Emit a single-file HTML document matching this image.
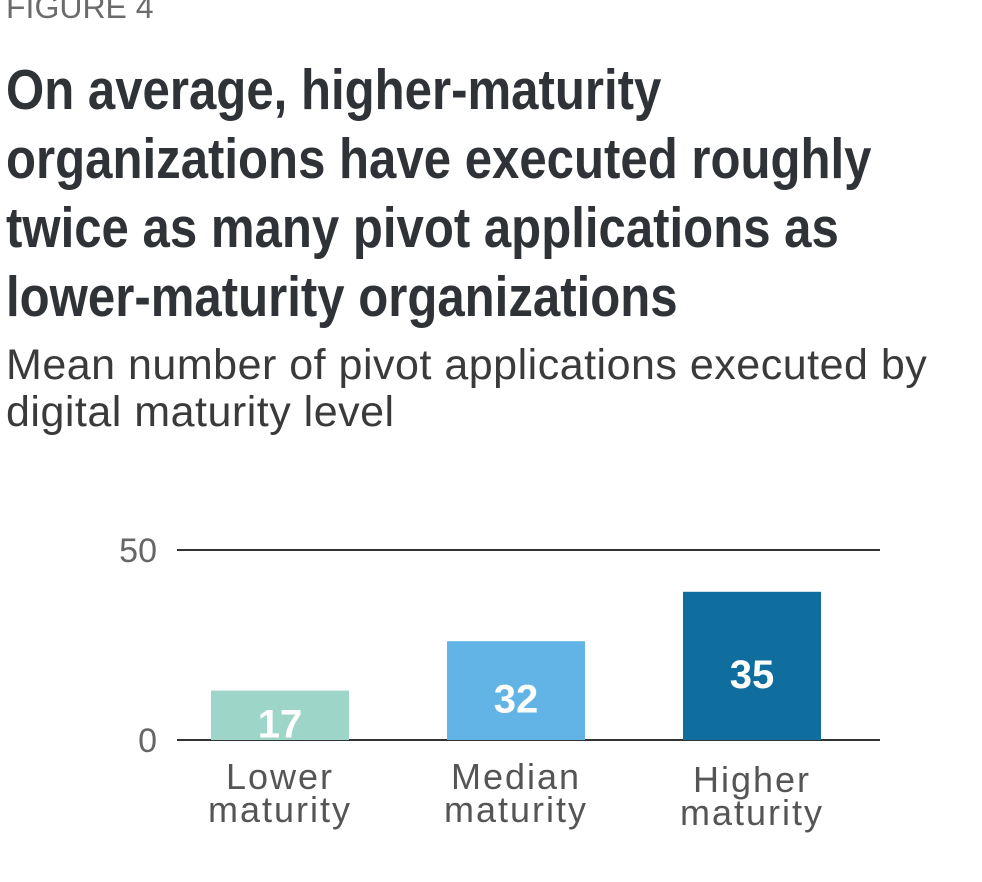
<!DOCTYPE html>
<html><head><meta charset="utf-8"><style>
body{margin:0;width:982px;height:882px;background:#fff;overflow:hidden;position:relative;font-family:"Liberation Sans",sans-serif}
.fig{position:absolute;left:6px;top:-11px;font-size:32px;color:#6b6b6b}
.title{position:absolute;left:6px;top:56px;font-family:"Liberation Sans Narrow","Liberation Sans",sans-serif;font-weight:bold;font-size:57px;line-height:69px;color:#2f3338;width:1100px;transform:scaleX(0.862);transform-origin:0 0;white-space:nowrap}
.sub{position:absolute;left:6px;top:342px;font-size:43px;line-height:47px;color:#3a3a3a;width:980px;white-space:nowrap;letter-spacing:0.5px}
svg{position:absolute;left:0;top:0}
</style></head><body>
<div class="fig">FIGURE 4</div>
<div class="title">On average, higher-maturity<br>organizations have executed roughly<br>twice as many pivot applications as<br>lower-maturity organizations</div>
<div class="sub">Mean number of pivot applications executed by<br>digital maturity level</div>
<svg id="chart" width="982" height="882"></svg>
<script>
const categories=[["Lower","maturity"],["Median","maturity"],["Higher","maturity"]];
const barValues=[13,26,39];
const valueLabels=["17","32","35"];
const tickValues=[0,50];
const colors=["#9dd6c8","#62b4e6","#0f6e9e"];
const NS="http://www.w3.org/2000/svg";
const svg=document.getElementById('chart');
const y=v=>740-v*3.8;
const x=i=>211+i*236;
const bw=138;
function mk(t,a){const e=document.createElementNS(NS,t);for(const k in a)e.setAttribute(k,a[k]);svg.appendChild(e);return e;}
tickValues.forEach(t=>{
 const l=mk('line',{x1:177,x2:880,y1:y(t),y2:y(t),stroke:'#333','stroke-width':2});
 
 
 const tx=mk('text',{x:157,y:y(t)+12,'text-anchor':'end','font-size':34,fill:'#666','font-family':'Liberation Sans, sans-serif'});
 tx.textContent=t;
 
 
});
barValues.forEach((v,i)=>{
 const r=mk('rect',{x:x(i),y:y(v),width:bw,height:y(0)-y(v),fill:colors[i]});
 
 
 const t=mk('text',{x:x(i)+bw/2,y:(y(v)+y(0))/2+8+14,'text-anchor':'middle','font-size':40,'font-weight':'bold',fill:'#fff','font-family':'Liberation Sans, sans-serif'});
 t.textContent=valueLabels[i];
 
 
 categories[i].forEach((s,j)=>{
  const c=mk('text',{x:x(i)+bw/2,y:789+j*33+(i==2?3:0),'text-anchor':'middle','font-size':36,'letter-spacing':'2',fill:'#555','font-family':'Liberation Sans, sans-serif'});
  c.textContent=s;
  
  
 });
});
</script>
</body></html>
